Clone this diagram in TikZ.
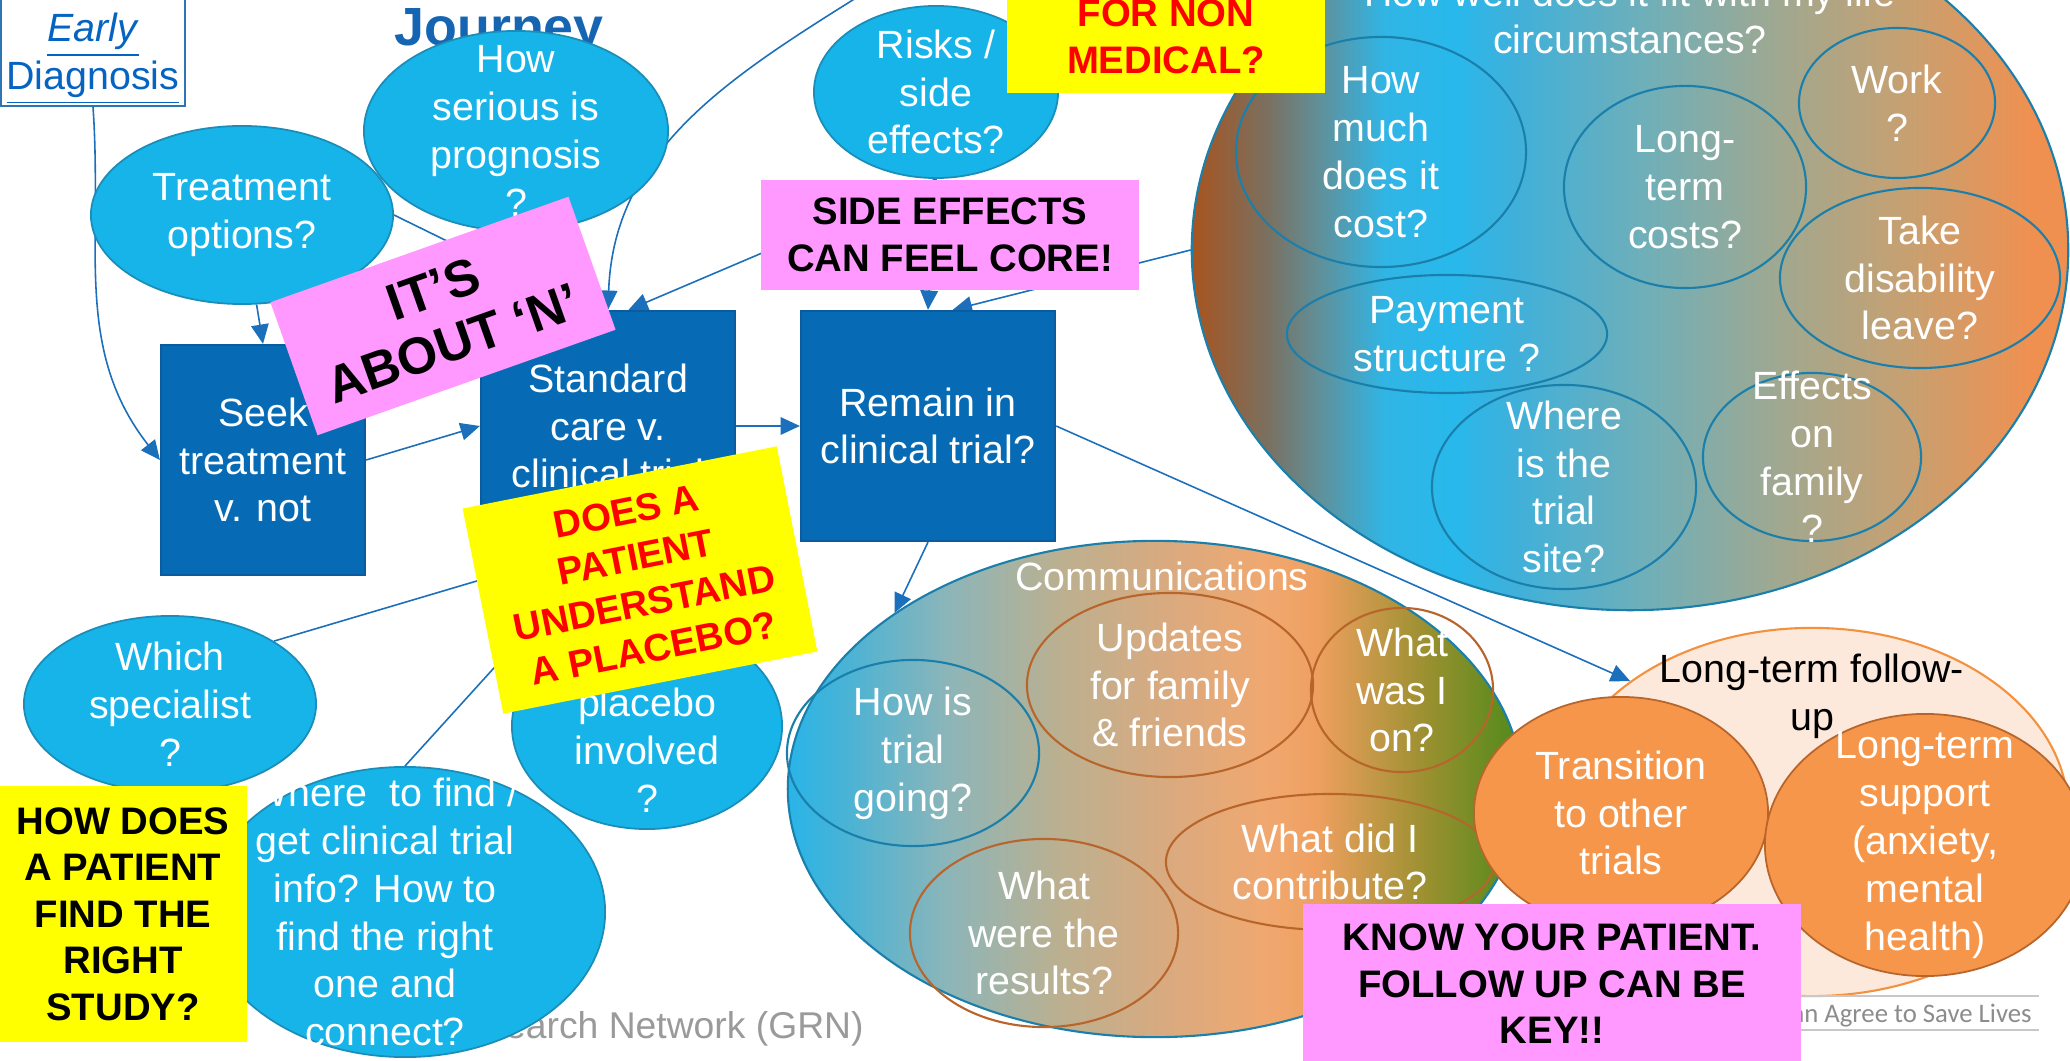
\documentclass[tikz,border=0pt]{standalone}
\usepackage{fontspec}
\setmainfont{Liberation Sans}
\newfontfamily\savefamily{Carlito}
\usepackage{tikz}
\usetikzlibrary{
	positioning,
	arrows.meta,
	shapes.geometric,
	backgrounds
}

\definecolor{qblue}{HTML}{16B4E8}
\definecolor{qedge}{HTML}{1B8DB9}
\definecolor{boxblue}{HTML}{066BB4}
\definecolor{boxedge}{HTML}{0B5C9E}
\definecolor{linkblue}{HTML}{1C6FBA}
\definecolor{notepink}{HTML}{FF99FF}
\definecolor{noteyellow}{HTML}{FFFF00}
\definecolor{ringblue}{HTML}{1A7FAA}
\definecolor{ringbrown}{HTML}{B8652C}
\definecolor{fuborder}{HTML}{F4913F}
\definecolor{fufill}{HTML}{FCE9DC}
\definecolor{fuorange}{HTML}{F5964A}
\definecolor{titleblue}{HTML}{1565B3}
\definecolor{linktext}{HTML}{0563C1}
\definecolor{edbox}{HTML}{2E75B6}
\definecolor{grntext}{HTML}{9A9A9A}
\definecolor{savegray}{HTML}{8C8C8C}
\definecolor{ruleg}{HTML}{C8C8C8}

% colours of the two big shaded bubbles
\definecolor{lf0}{RGB}{168,84,30}
\definecolor{lf1}{RGB}{122,112,96}
\definecolor{lf2}{RGB}{96,144,154}
\definecolor{lf3}{RGB}{48,181,229}
\definecolor{lf4}{RGB}{40,184,235}
\definecolor{lf5}{RGB}{64,176,218}
\definecolor{lf6}{RGB}{112,175,184}
\definecolor{lf7}{RGB}{160,168,144}
\definecolor{lf8}{RGB}{200,160,112}
\definecolor{lf9}{RGB}{240,144,80}
\definecolor{cm0}{RGB}{40,180,232}
\definecolor{cm1}{RGB}{74,179,213}
\definecolor{cm2}{RGB}{141,181,184}
\definecolor{cm3}{RGB}{187,176,144}
\definecolor{cm4}{RGB}{216,170,128}
\definecolor{cm5}{RGB}{240,168,112}
\definecolor{cm6}{RGB}{239,160,96}
\definecolor{cm7}{RGB}{154,144,48}
\definecolor{cm8}{RGB}{78,138,26}

\pgfdeclarehorizontalshading{lifeshade}{100bp}{color(0bp)=(lf0); color(25bp)=(lf0);
  color(29.3bp)=(lf1); color(32.3bp)=(lf2); color(36bp)=(lf3); color(40bp)=(lf4);
  color(43.5bp)=(lf5); color(51bp)=(lf6); color(58.5bp)=(lf7); color(66bp)=(lf8);
  color(73bp)=(lf9); color(100bp)=(lf9)}
\pgfdeclarehorizontalshading{commshade}{100bp}{color(0bp)=(cm0); color(25bp)=(cm0);
  color(29bp)=(cm1); color(36bp)=(cm2); color(43.5bp)=(cm3); color(50.5bp)=(cm4);
  color(57.5bp)=(cm5); color(61bp)=(cm6); color(68.5bp)=(cm7); color(75bp)=(cm8);
  color(100bp)=(cm8)}

\newcommand\bubfont{\fontsize{11.2}{13.6}\selectfont}
\newcommand\calloutfont{\bfseries\fontsize{10.9}{13.2}\selectfont}
\newcommand\aboutfont{\bfseries\fontsize{14.7}{16.5}\selectfont}
\newcommand\journeyfont{\bfseries\fontsize{15.3}{18}\selectfont}

\tikzset{
	dims/.style 2 args={minimum width=#1cm, minimum height=#2cm},
	bubble/.style={ellipse, draw=qedge, fill=qblue, line width=0.5pt, inner sep=0pt},
	qtext/.style={text=white, align=center, font=\bubfont},
	stepbox/.style={rectangle, draw=boxedge, fill=boxblue, line width=0.6pt, inner sep=0pt},
	ring/.style={ellipse, draw=ringblue, line width=0.6pt, inner sep=0pt},
	brownring/.style={ellipse, draw=ringbrown, line width=0.6pt, inner sep=0pt},
	orangeball/.style={ellipse, draw=ringbrown, fill=fuorange, line width=0.5pt, inner sep=0pt},
	note/.style={rectangle, inner sep=0pt, align=center, font=\calloutfont},
	link/.style={draw=linkblue, line width=0.45pt, -{Triangle[length=5.5pt,width=5pt]}}
}

\begin{document}
\begin{tikzpicture}[x=0.01cm, y=-0.01cm]
	\useasboundingbox (0,0) rectangle (2070,1061);

	% texts that sit behind the bubbles
	\node[anchor=base west, font=\journeyfont, text=titleblue] (journey) at (382,46) {Journey};
	\node[anchor=base east, font=\fontsize{10.6}{12}\selectfont, text=grntext] (grn) at (876,1038) {Research Network (GRN)};

	\node[draw=edbox, fill=white, line width=0.5pt, inner sep=0pt, dims={1.84}{1.08},
		label={[font=\bubfont, text=linktext, align=center, yshift=-0.07cm]center:{\underline{\textit{Early}}\\\underline{Diagnosis}}}] (early) at (93,52) {};

	% light blue questions
	\node[bubble, dims={3.02}{1.78}, label={[qtext]center:{Treatment\\options?}}] (treat) at (242,215) {};
	\node[bubble, dims={3.04}{2.00}, label={[qtext]center:{How\\serious is\\prognosis\\?}}] (serious) at (516,131) {};
	\node[bubble, dims={2.44}{1.72}, label={[qtext]center:{Risks /\\side\\effects?}}] (risks) at (936,92) {};
	\node[bubble, dims={2.92}{1.76}, label={[qtext]center:{Which\\specialist\\?}}] (which) at (170,704) {};
	\node[bubble, dims={4.00}{2.90}, label={[qtext, xshift=-0.2cm]center:{Where~ to find /\\get clinical trial\\info? How to\\find the right\\one and\\connect?}}] (where) at (405,912) {};
	\node[bubble, dims={2.70}{2.06}, label={[qtext, yshift=-0.24cm]center:{placebo\\involved\\?}}] (placebo) at (647,726) {};

	% the steps
	\node[stepbox, dims={2.04}{2.30}, label={[qtext]center:{Seek\\treatment\\v. not}}] (seek) at (263,460) {};
	\node[stepbox, dims={2.54}{2.30}, label={[qtext]center:{Standard\\care v.\\clinical trial}}] (std) at (608,426) {};
	\node[stepbox, dims={2.54}{2.30}, label={[qtext]center:{Remain in\\clinical trial?}}] (remain) at (928,426) {};

	% life circumstances
	\node[ellipse, draw=ringblue, line width=0.6pt, shading=lifeshade, inner sep=0pt, dims={8.76}{7.20},
		label={[qtext, yshift=2.34cm]center:{How well does it fit with my life\\circumstances?}}] (life) at (1630,250) {};
	\node[ring, dims={2.90}{2.30}, label={[qtext]center:{How\\much\\does it\\cost?}}] (cost) at (1381,152) {};
	\node[ring, dims={2.42}{2.02}, label={[qtext]center:{Long-\\term\\costs?}}] (ltcost) at (1685,187) {};
	\node[ring, dims={1.96}{1.50}, label={[qtext]center:{Work\\?}}] (work) at (1897,103) {};
	\node[ring, dims={2.80}{1.80}, label={[qtext]center:{Take\\disability\\leave?}}] (leave) at (1920,278) {};
	\node[ring, dims={3.20}{1.18}, label={[qtext]center:{Payment\\structure ?}}] (pay) at (1447,334) {};
	\node[ring, dims={2.64}{2.04}, label={[qtext]center:{Where\\is the\\trial\\site?}}] (site) at (1564,487) {};
	\node[ring, dims={2.18}{1.68}, label={[qtext]center:{Effects\\on\\family\\?}}] (family) at (1812,457) {};

	% communications
	\node[ellipse, draw=ringblue, line width=0.6pt, shading=commshade, inner sep=0pt, dims={7.34}{4.96},
		label={[qtext, yshift=2.12cm, xshift=0.07cm]center:{Communications}}] (comm) at (1155,789) {};
	\node[ring, dims={2.52}{1.86}, label={[qtext]center:{How is\\trial\\going?}}] (going) at (913,753) {};
	\node[brownring, dims={2.86}{1.84}, label={[qtext]center:{Updates\\for family\\\& friends}}] (updates) at (1170,685) {};
	\node[brownring, dims={1.82}{1.64}, label={[qtext]center:{What\\was I\\on?}}] (whaton) at (1402,690) {};
	\node[brownring, dims={3.28}{1.36}, label={[qtext]center:{What did I\\contribute?}}] (contrib) at (1330,862) {};
	\node[brownring, dims={2.68}{1.88}, label={[qtext]center:{What\\were the\\results?}}] (results) at (1044,933) {};

	% long-term follow-up
	\node[ellipse, draw=fuborder, fill=fufill, line width=0.6pt, inner sep=0pt, dims={5.12}{3.68},
		label={[font=\bubfont, align=center, yshift=1.16cm]center:{Long-term follow-\\up}}] (lt) at (1812,812) {};
	\node[orangeball, dims={2.94}{2.32}, label={[qtext]center:{Transition\\to other\\trials}}] (trans) at (1621,813) {};
	\node[orangeball, dims={3.20}{2.62}, label={[qtext]center:{Long-term\\support\\(anxiety,\\mental\\health)}}] (support) at (1925,845) {};

	% footer
	\draw[ruleg, line width=0.7pt] (1780,996) -- (2039,996);
	\draw[ruleg, line width=0.7pt] (1780,1030) -- (2039,1030);
	\node[anchor=base east, font=\savefamily\fontsize{7.6}{9}\selectfont, text=savegray] (save) at (2044,1022) {an Agree to Save Lives};

	% call-outs
	\node[note, fill=notepink, rotate=19.5, dims={3.16}{1.41}, font=\aboutfont] (about) at (443,316) {IT’S\\ABOUT ‘N’};
	\node[note, fill=noteyellow, text=red, rotate=11.2, dims={3.20}{2.09}] (placebonote) at (640,580) {DOES A\\PATIENT\\UNDERSTAND\\A PLACEBO?};
	\node[note, fill=notepink, dims={3.78}{1.10}] (sidenote) at (950,235) {SIDE EFFECTS\\CAN FEEL CORE!};
	\node[note, fill=noteyellow, text=red, dims={3.17}{1.12}] (jargon) at (1166,37) {FOR NON\\MEDICAL?};
	\node[note, fill=noteyellow, dims={2.47}{2.55}] (findnote) at (123,914) {HOW DOES\\A PATIENT\\FIND THE\\RIGHT\\STUDY?};
	\node[note, fill=notepink, dims={4.98}{1.60}] (knownote) at (1552,984) {KNOW YOUR PATIENT.\\FOLLOW UP CAN BE\\KEY!!};

	% connectors
	\coordinate (topin) at (872,-12);
	\begin{scope}[on background layer]
		\fill[white] (0,0) rectangle (2070,1061);
		\draw[link] (early.south) to[out=-86,in=128] (seek.west);
		\draw[link] (treat) -- (seek.north);
		\draw[link] (treat.east) -- (std.100);
		\draw[link] (topin) to[out=212,in=88] (std.north);
		\draw[link] (risks.south) -- (std.80);
		\draw[link] (risks.south) -- (remain.north);
		\draw[link] (life.west) -- (remain.78);
		\draw[link] (seek.east) -- (std.west);
		\draw[link] (std.east) -- (remain.west);
		\draw[link] (remain.south) -- (comm.north west);
		\draw[link] (remain.east) -- (lt.north west);
		\draw[link] (which.north east) -- (std.south);
		\draw[link] (where.north) -- (std.south);
	\end{scope}
\end{tikzpicture}
\end{document}
